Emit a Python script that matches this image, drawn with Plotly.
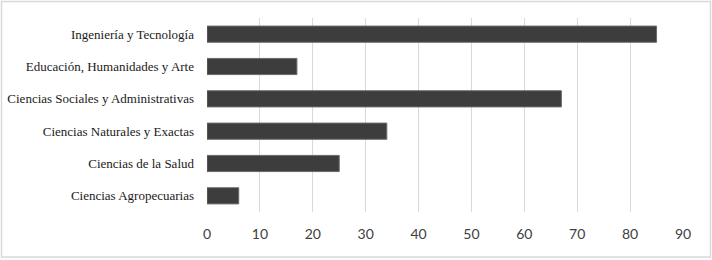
import plotly.graph_objects as go

categories = [
    "Ciencias Agropecuarias",
    "Ciencias de la Salud",
    "Ciencias Naturales y Exactas",
    "Ciencias Sociales y Administrativas",
    "Educación, Humanidades y Arte",
    "Ingeniería y Tecnología",
]
values = [6, 25, 34, 67, 17, 85]
x_ticks = [0, 10, 20, 30, 40, 50, 60, 70, 80, 90]

W, H = 712, 260
ml, mr, mt, mb = 207, 29, 18, 48

fig = go.Figure(
    go.Bar(
        x=values,
        y=categories,
        orientation="h",
        marker=dict(color="#3d3d3d", line=dict(color="#6a6a6a", width=1)),
    )
)

pw = W - ml - mr
ph = H - mt - mb
fig.add_shape(
    type="rect",
    xref="paper", yref="paper",
    x0=(1.5 - ml) / pw, x1=(W - 1.5 - ml) / pw,
    y0=-(H - 3 - mt - ph) / ph, y1=(H - 1.5 - mb) / ph,
    line=dict(color="#d9d9d9", width=1.5),
    fillcolor="rgba(0,0,0,0)",
    layer="below",
)

fig.update_layout(
    width=W, height=H,
    margin=dict(l=ml, r=mr, t=mt, b=mb, autoexpand=False),
    paper_bgcolor="white",
    plot_bgcolor="white",
    bargap=0.5,
    showlegend=False,
    xaxis=dict(
        range=[0, 90],
        tickvals=x_ticks,
        automargin=False,
        showgrid=True,
        gridcolor="#d9d9d9",
        gridwidth=1,
        zeroline=False,
        showline=False,
        ticks="",
        tickfont=dict(family="Lato", size=14, color="#404040"),
        ticklabelstandoff=12,
        fixedrange=True,
    ),
    yaxis=dict(
        categoryorder="array",
        categoryarray=categories,
        automargin=False,
        showgrid=False,
        zeroline=False,
        showline=False,
        ticks="",
        tickfont=dict(family="Liberation Serif", size=13, color="#1a1a1a"),
        ticklabelstandoff=12,
        fixedrange=True,
    ),
)

fig.write_html(
    "out.html",
    config={"displayModeBar": False},
    post_script="document.body.style.margin='0';",
)
